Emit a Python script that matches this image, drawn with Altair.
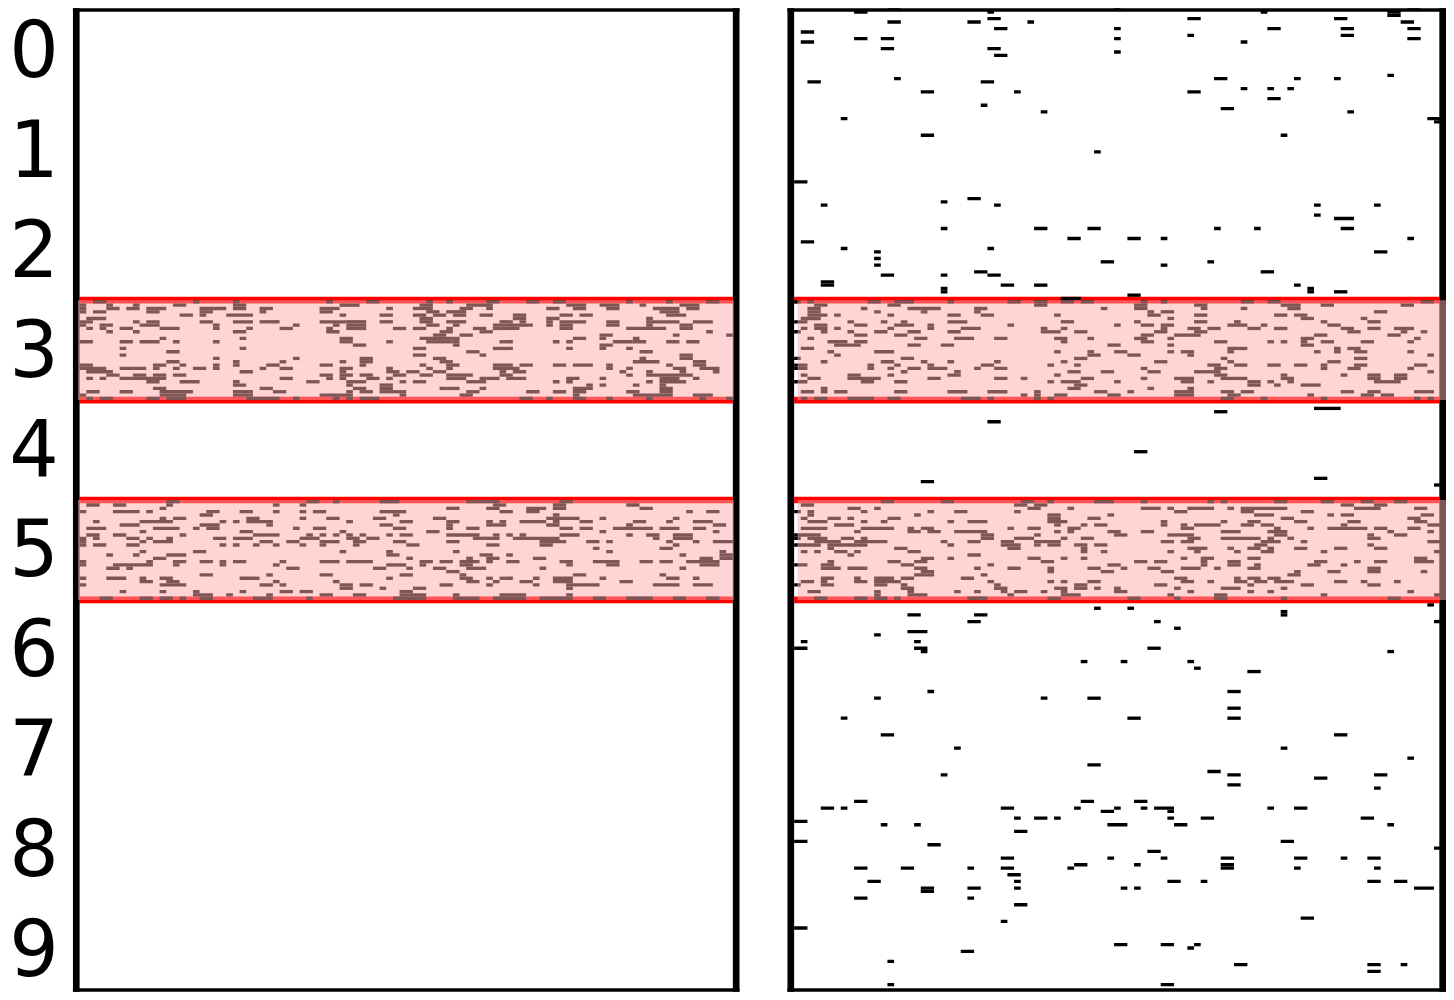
import altair as alt
import pandas as pd

# Every string lists the filled columns of one row of the grid ("a-b" = columns a to b).
LEFT_BAND_3 = [
"2-3 17 23 37 43-44 52 55 61-62 67-68 71-72 82 88 94-95",
"0 4 8 14-15 23-24 39-41 51-52 58-61 73-75 78-80 84 90-92",
"0 4-5 7-8 10-12 18-21 23-24 27-28 36-38 46 50-52 57-58 61 70-71 74-75 79-80 86-89 91-92",
"0 2-3 10-11 18-19 27 36-37 52-53 55-57 87-89",
"15-16 18 22-25 39 45-46 50-51 53-54 56-57 60-61 65-66 72-73 75-76 88-90",
"1-3 51-52 65-66 70-71 85",
"0-1 8 10-11 18-19 23-25 27-29 36-39 40-42 45-46 51-52 55-57 63-64 66 70 72-75 79-80 85-89 92-94",
"0 3-4 9-11 20 32 38 40-42 52-53 56 62-67 70 72-73 79-80 85 90-91",
"1 3 6-7 12-14 20 25 30-31 37 40-42 47-48 50-51 55 59-60 62-65 72-73 82-87 90-91",
"4 8 23-24 37-38 54-55 60-61 94",
"53-54 57-58 78-79 89 97",
"12 24 39-40 51-55 56 74-75 78 83",
"0-1 6-7 9-11 14 20 39-40 46 52-55 56 63-64 71 73 80-82 83-84 88-89 91-92",
"41-42 56 78-79",
"6 24 50-51 62-64 73 78 82",
"13-14 58-59 84-85",
"6 50-51 60 90-91",
"20 32 42-43 53-54 84 90-91",
"13-14 23 30 39 42-43 54-55 83-86 92-93",
"0-1 11-12 15 20 23 28-29 36-37 42 51 55-56 62-64 66-67 71-72 74-76 79 88 92-93",
"0-3 6-9 11 14 17-18 20 27 30-31 39-40 46 52 55 62-65 79 82 89-90 93-95",
"1-4 24-25 39 46-47 49-50 53-54 63 65-66 81 85 90 95",
"4-5 8-9 11-12 14-15 36-37 39-40 42-43 47-48 51-52 55-58 63-64 82 85-91",
"1 3 6-12 30-31 37 39 43-44 46 55-57 60 61-62 64-66 73-74 78 87-89 92",
"10-11 15-17 23 34-35 40-42 48 50-51 58-60 71 73 85 87-90",
"23-24 40 45-46 76 78 83 87",
"11-12 27-28 41-42 45-46 54 55-56 60 74-76 87-88",
"1-2 6-7 12-16 23-25 29-30 40 42-43 45-48 58-59 67-68 71-72 74-75 82-83 87-88",
"0 12-15 23-25 36-40 48 57-58 74 83-88 92-94",
"1 3-4 10-11 13-15 25-29 32 38 40 42-44 66-67 70 74-75 79 85 93 97",
]
LEFT_BAND_5 = [
"13-14 34-35 38 45-47 58-62 72-73",
"1-2 5-6 13 29 33 62-63 71-72 82-83",
"12 55-56 61-62 67-69 71-72 84-85",
"0 5-8 10 19-20 24-25 29 33 35-36 45-48 63-64 67-68 91 94-95",
"18-19 47 71",
"12 14-15 25-26 33 37-38 44-45 53-54 70-74 78 89",
"2 9-13 21 23 25-28 40 48-49 55-56 61 63 66-69 71 75-76 83-84 88 92-94",
"6-8 18-20 28 45-46 55 61-63 70-71 82 95-96",
"1-3 11-14 17 19-20 32 35-36 47-48 55 58-59 72-73 75-76 80-85 87-89 92-93",
"9 24-25 39 52-53 78 95",
"1-2 5-6 15 26-29 34 36 38 40 42 46 48-49 55-59 62 64 66 72-74 82 85-86 89-91",
"0 2 7-8 10 13 20-21 23-25 33-35 40-41 43-44 59-62 65-71 86 89-91",
"0 9 11-13 27-28 31-32 36-38 41-42 47-48 55-56 69-72 76-77 79 88 92 95-97",
"0 2-3 7-8 21 23 26 29 33 36 41 49-50 61-62 69-70 89",
"77 87-88",
"9 17-18 39 46 56 79 96",
"4 8 13-15 46-47 60-61 64 90 96-97",
"11-12 49 58 61-62 68-69 93-94 96-97",
"0 10 14-15 18-19 21 23-24 30 36-38 40-43 51-52 54-55 57-59 61 64-65 72-73 77-80 84-85 87-88 91-95",
"0 5-10 14 21 29 46-48 51 57-58 73 79-80 93-95",
"4-5 7 31-32 44-45 49 53-54 58-60 69 90",
"55-56",
"18-19 28 36-37 48-49 57 74-75 87",
"0 4-6 9 12-13 24-26 46 57-58 61 63-64 68 71-73 78 88-89 92",
"9-10 13-14 29 38 58-59 62 66-67 71-73 81-82",
"0 12-15 27-28 30 39-40 42-43 54-55 61 68 73-77 86-89 92-94",
"39-40 45 50-51 73",
"6 12 17 24 30-31 33-34 48-49",
"17-19 22 28 36-37 41-42 48-51 56 63-66 73",
"3-4 9-10 12-13 15 18-19 26-28 34 47-51 56-59 62-66 69-73 77-78 82-85 89-90 94-95",
]
RIGHT_BAND_3 = [
"0 2 11-12 15-17 23 32-33 36-37 40-41 43-44 52 55 67-68 71-72 94-95",
"3-4 14-15 36-37 51-52 60-61 73-75 79-80 91-92",
"2-3 10 17-21 27-28 46 51-52 61 67 74-75",
"2-3 12 19 27 53 55-56 87-88",
"2-4 6 14 23-24 28-29 39 53-54 60-61 72-73 75-76",
"1-3 56 76-77 85",
"0-1 8 13 16 23-25 40-41 51 60-61 66 79 86-87 97",
"3-4 9-10 15-17 20 32 48 52-53 55-56 65 66-67 70 80-81",
"1 3-4 6 14 20 25-27 37 40 55 59-60 62-63 68-69 72-73 82-83 86-87 90-92",
"0 4 8 12-13 17-18 23-24 37-39 42-43 54-55 60-61 83-84 91 94",
"9-10 15-16 52-53 57-60 78-79 89 90 97",
"2 18-19 24-26 30-31 39-40 44 51-52 56 76-77 93",
"5-7 9-10 40 52-53 63-64 71 73 76 79-80 85-86 92",
"6-9 17-18 22-23 47-48 56 76-77",
"1-2 65-67 81 83-84",
"5 12-14 39 44 48-49 56 58-59 65 78 81 84-85 92",
"6 44-45 50-51 59 95",
"0 16-17 42-43 64 84-85",
"4 13-14 19 23 30 40 54-55 65 80-81",
"0-1 11 15 20 28-29 38 42 62-63 66-67 71-72 75-76 79 84-85 93-94",
"0-1 11 14 17-18 20-22 27 30-31 52 63-64 79 83-84 92",
"16 24 41-42 46-47 53-54 60-63 95",
"1 8-9 14 23-24 39 63-64 73 82 86-87 90-91",
"2-3 8-12 20-21 30-31 34 43-44 52 57-59 64-67 73-74 86-87 90-91 97",
"0-1 10-11 15-16 38 40-42 48 58-59 62 68-69 71 74 87-90",
"42-43 68-69 72 76-78",
"4 41-42 53 59",
"1-2 4 6-7 15-16 23-25 29-31 36 45-46 50 57-59 64-65 67-68 82-83 86-87 93-95",
"34 36 39-40 47-48 57-59 65-66 77 85-86 88-89",
"1 3-4 8-11 14-15 25-27 29 36 38 64-65 70 79 93 95 97",
]
RIGHT_BAND_5 = [
"13-14 22-23 34-35 38 45-47 52 62 64 72-73 79-80 85-86 90-91",
"1-2 33-34 36-37 82-83 87-88",
"8-9 12 35-36 41 52-54 56 59-62 65 67-73 84-87 93-94",
"0 2 10 20 24-25 33 57-58 67-68 76-77",
"2 18 38-39 47 69-71 80 82-83 94-95",
"1 5-6 8 14-15 38-39 44-45 73-74 92-93",
"2-4 10 13 23 26-28 38-40 55 64 68-69 75-76 83-84 93-94",
"6-8 39 43 45-46 55 58 60-63 67-68 70-71 82 95-96",
"1-4 10-14 17 19-20 32 35-36 41-42 58-59 72 77 80-85 87-88 92-93",
"9 17-18 20-21 24-28 39 41 47-48 52-53 64-66 71-73 89 95",
"0-3 28-29 36 48-49 56-59 72-73 86 90-91",
"0 2-4 7-8 10 28-29 33-35 40 43-44 59-60 64-69 71 74 86-87",
"3-6 9-13 22 26-27 31-32 36-39 55-56 58-59 70-72 76 95-96",
"0-3 5-10 23 31-33 36 38-39 42-43 45-46 69-70 86",
"5 15-16 32-33 43 59-61 65 68-69 71 75-76 81-82 87-88",
"1 3 6-7 9 17-18 43 46 56 60 66 70-71 79 96",
"8 26-27",
"19-20 23 35-36 40 43 58 61-62 68-69 93-94",
"5 14-15 18-19 37-38 51-52 54-55 61 65-66 78-79 84 87-88 93-95",
"0-1 4-5 16-17 29 47-48 61 65-66 69 77-78 82",
"4-6 8-10 18-19 27 32-33 38 44-45 49 53-54 58-60 63 68-69 86-87",
"19-20 38 46-47 55-56 75 80-81 86-87 94",
"18-20 28 74-75",
"4-5 9 12-14 16-17 25-26 57-58 66 68-69 71-72",
"1-2 4 9-10 12-15 29 38 40 44-45 58-59 62 66-67 69-70 72-74 81-82 85 90",
"0 4-5 12-13 16 30 42-43 54-55 68 76-77 86-87",
"16-17 30-31 39-40 42-43 45 48 57 64-66 73",
"2-3 12 17 24 27 31 33-34 37 40 48-49 59 68 71 92",
"12 17-19 32 40-42 56 63-64 79 96-97",
"3-4 9-10 12-13 15 26-28 38-39 50-51 57 63-64 73 89-90",
]
RIGHT_OUTSIDE = {
1: "2-3 65-66 87", 2: "14-15 48 92-93", 3: "9-10 29 70 89-90", 4: "89-90", 5: "29-30 59-60 81-82",
6: "14-15 26-27 35 91-92", 8: "30-31 48 71-72 82-83 92-93", 9: "1-2", 10: "59 82-83",
11: "9-10 13-14 48 92-93", 12: "1-2 67", 14: "13-14 29-30", 15: "48", 16: "30-31", 22: "89",
23: "15 63-64 75 81", 24: "2-3 28-29", 26: "67 71 74", 27: "19-20 33 59-60", 29: "71-72",
31: "28", 32: "64-65", 33: "37 83", 35: "7 95-97", 36: "96-97", 40: "19-20 73", 45: "45",
54: "0-1", 59: "26-27", 60: "22", 61: "4 30 78 87", 64: "78", 65: "81-83", 68: "22 36-37 44-45 63 69 82-83",
71: "41-42 50-51 55 92", 72: "1-2", 74: "7 29", 75: "12 87-88", 77: "12", 78: "46-47 62", 79: "12 55",
81: "27-28 70-71", 82: "13-14 22 29-30", 84: "4-5", 85: "4-5 31-32 36-37 75", 86: "22 77 97", 87: "22 77 81-82",
88: "50-51", 89: "40-42",
122: "78-81", 123: "63-64", 126: "29-30", 135: "51-52", 143: "78-79", 144: "19-20", 145: "96",
181: "95", 182: "45 50", 183: "73", 184: "17-18 27-28 73", 186: "26-27 54 96-97", 188: "57",
189: "17-19", 190: "12", 192: "1 18", 194: "0-1 18-19 53-54", 195: "19 89", 198: "43 49 59", 200: "60",
201: "68-69", 207: "20 65-66", 209: "12 37 44-45", 212: "65-66", 215: "7 50-51 65-66", 220: "13-14 81-82",
224: "24 73", 227: "92", 229: "44-45", 231: "62-63", 232: "22 65-66 87-88", 233: "78-79", 235: "65-66", 236: "87",
240: "9-10 43-44 51-52", 242: "4-5 7 31-32 42 48 52 54-56 71 75-76", 243: "46-47 56", 245: "33 36-37 39 56 61-62 85-86",
246: "0-1", 247: "13 18 47-49 57-58 89", 249: "33-34", 252: "0-1 73-74", 253: "20-21", 254: "96-97", 255: "53-54",
257: "31-32 47 55 64-65 75-76 82 86-87", 259: "42-43 51 64-65", 260: "9-10 16-17 26 31-32 41 64-65 75 87",
262: "32-33", 264: "11-12 33 56-57 61 86-87 90-91", 266: "19-20 26-27 33 49 51 93-95", 267: "19-20", 269: "9-10 26",
271: "33-34", 275: "76-77", 276: "31", 278: "0-1", 283: "48-49 55-56 60", 284: "59", 285: "25-26", 288: "14",
289: "66-67 86-87 91", 291: "86-87", 295: "14 55-56",
}
DIGIT_ROWS = [15, 45, 75, 105, 135, 165, 195, 225, 255, 285]
BANDS = [(90, 120), (150, 180)]
N_COLS = 98
RIGHT_N_COLS = 96.8
FIRST_VISIBLE_ROW = 2.4
LAST_VISIBLE_ROW = 297.6


def runs(text, row):
    out = []
    for tok in text.split():
        a, _, b = tok.partition("-")
        out.append({"c0": int(a), "c1": int(b or a) + 1, "r0": row, "r1": row + 1})
    return out


def cells(bands, outside=None):
    rec = []
    for (start, _), rows in zip(BANDS, bands):
        for i, text in enumerate(rows):
            rec += runs(text, start + i)
    for row, text in (outside or {}).items():
        rec += runs(text, row)
    return pd.DataFrame(rec)


y_scale = alt.Scale(domain=[LAST_VISIBLE_ROW, FIRST_VISIBLE_ROW], nice=False, zero=False)


def rects(df, x_scale, y_axis, **mark):
    return alt.Chart(df).mark_rect(**mark).encode(
        x=alt.X("c0:Q", scale=x_scale, axis=None),
        x2="c1:Q",
        y=alt.Y("r0:Q", scale=y_scale, axis=y_axis),
        y2="r1:Q",
    )


def panel(df, n_cols, overlay_cols, y_axis):
    x_scale = alt.Scale(domain=[-1, n_cols + 1], nice=False, zero=False)
    red = pd.DataFrame(
        [{"c0": 0, "c1": n_cols, "r0": r - 1, "r1": r + 1} for band in BANDS for r in band]
    )
    frame = pd.DataFrame([
        {"c0": -1, "c1": 0, "r0": FIRST_VISIBLE_ROW, "r1": LAST_VISIBLE_ROW},
        {"c0": n_cols, "c1": n_cols + 1, "r0": FIRST_VISIBLE_ROW, "r1": LAST_VISIBLE_ROW},
        {"c0": -1, "c1": n_cols + 1, "r0": FIRST_VISIBLE_ROW, "r1": FIRST_VISIBLE_ROW + 1},
        {"c0": -1, "c1": n_cols + 1, "r0": LAST_VISIBLE_ROW - 1, "r1": LAST_VISIBLE_ROW},
    ])
    overlay = pd.DataFrame(
        [{"c0": overlay_cols[0], "c1": overlay_cols[1], "r0": a, "r1": b} for a, b in BANDS]
    )
    return alt.layer(
        rects(red, x_scale, y_axis, color="#ff0000"),
        rects(df, x_scale, y_axis, color="#000000", clip=True),
        rects(frame, x_scale, y_axis, color="#000000"),
        rects(overlay, x_scale, y_axis, color="#ffaaaa", opacity=0.5),
    ).properties(width=round((n_cols + 2) * 20 / 3), height=984)


axis = alt.Axis(
    values=DIGIT_ROWS,
    labelExpr="floor(datum.value / 30)",
    title=None, ticks=False, domain=False, grid=False,
    labelFontSize=78, labelFont="DejaVu Sans", labelColor="#000000",
    labelPadding=14.5, labelOffset=3, labelBaseline="middle", labelOverlap=False, labelBound=False, labelFlush=False,
)

left = panel(cells([LEFT_BAND_3, LEFT_BAND_5]), N_COLS, (-0.25, N_COLS + 0.15), axis)
right = panel(cells([RIGHT_BAND_3, RIGHT_BAND_5], RIGHT_OUTSIDE), RIGHT_N_COLS, (0.5, RIGHT_N_COLS + 1), None)

chart = alt.hconcat(left, right, spacing=48).properties(
    padding=0, background="#ffffff"
).configure_view(stroke=None)

chart.save("out.html", embed_options={"renderer": "svg", "actions": False})
